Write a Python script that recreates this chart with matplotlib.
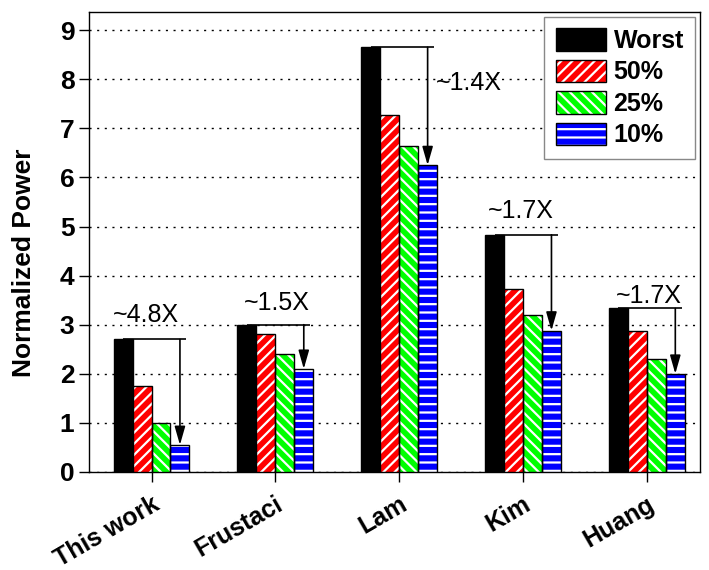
import matplotlib
matplotlib.use("Agg")
import matplotlib.pyplot as plt
import numpy as np
from matplotlib.patches import Patch

plt.rcParams['font.family'] = ['Liberation Sans', 'DejaVu Sans']
plt.rcParams['hatch.linewidth'] = 1.6

categories = ["This work", "Frustaci", "Lam", "Kim", "Huang"]
series_names = ["Worst", "50%", "25%", "10%"]
worst = [2.70, 3.00, 8.65, 4.83, 3.33]
p50 = [1.75, 2.82, 7.28, 3.73, 2.88]
p25 = [1.00, 2.40, 6.63, 3.20, 2.31]
p10 = [0.55, 2.10, 6.25, 2.88, 2.00]
ratio_labels = ["~4.8X", "~1.5X", "~1.4X", "~1.7X", "~1.7X"]

series = [worst, p50, p25, p10]
faces = ["black", "#ff0000", "#00ff00", "#0000ff"]
hatches = [None, "///", "\\\\\\", "--"]

fig = plt.figure(figsize=(7.09, 5.70), dpi=100)
ax = fig.add_axes([0.1255, 0.172, 0.862, 0.807])

x = np.arange(len(categories))
w = 0.153
handles = []
for i, (vals, fc, h) in enumerate(zip(series, faces, hatches)):
    pos = x + (i - 1.5) * w
    if h is None:
        ax.bar(pos, vals, w, color=fc, edgecolor="black", linewidth=1, zorder=3)
        handles.append(Patch(facecolor=fc, edgecolor="black", linewidth=1))
    else:
        ax.bar(pos, vals, w, color=fc, edgecolor="white", hatch=h,
               linewidth=0, zorder=3)
        ax.bar(pos, vals, w, fill=False, edgecolor="black", linewidth=1, zorder=4)
        handles.append((Patch(facecolor=fc, edgecolor="white", hatch=h, linewidth=0),
                        Patch(fill=False, edgecolor="black", linewidth=1)))

# reduction markers: bracket from the worst case down to the 10% bar
blue_off = 1.5 * w
line_end = 0.28
text_pos = [(-0.044, 3.05), (0.01, 3.29), (0.56, 7.78), (-0.016, 5.17), (0.016, 3.44)]
for xi, top, low, lab, (dx, ty) in zip(x, worst, p10, ratio_labels, text_pos):
    ax.plot([xi - 1.5 * w, xi + line_end], [top, top], color="black", lw=1.2,
            zorder=5, solid_capstyle="butt")
    ax.annotate("", xy=(xi + blue_off, low), xytext=(xi + blue_off, top),
                arrowprops=dict(arrowstyle="-|>,head_length=0.7,head_width=0.2",
                                color="black", lw=1.2, mutation_scale=16,
                                shrinkA=0, shrinkB=0),
                zorder=6)
    ax.text(xi + dx, ty, lab, ha="center", va="baseline", fontsize=18, zorder=6)

ax.set_xlim(-0.505, 4.43)
ax.set_ylim(0, 9.37)
ax.set_yticks(range(0, 10))
ax.set_xticks(x)
ax.set_xticklabels(categories, rotation=30, ha="right", rotation_mode="anchor",
                   fontsize=18, fontweight="bold")
for lab in ax.get_yticklabels():
    lab.set_fontsize(19)
    lab.set_fontweight("bold")
ax.tick_params(axis="y", direction="out", length=7, width=1, pad=3.5)
ax.tick_params(axis="x", direction="out", length=7, width=1, pad=7.5)
ax.set_ylabel("Normalized Power", fontsize=19, fontweight="bold")
ax.yaxis.set_label_coords(-0.086, 0.454)

ax.yaxis.grid(True, linestyle=(0, (1.5, 4)), color="black", linewidth=1)
ax.set_axisbelow(True)
for s in ax.spines.values():
    s.set_linewidth(1)

leg = ax.legend(handles, series_names, loc="upper right",
                prop=dict(weight="bold", size=18), handlelength=2.0,
                handleheight=1.0, labelspacing=0.27, handletextpad=0.32,
                borderaxespad=0.2, fancybox=False, framealpha=1,
                borderpad=0.45)
leg.get_frame().set_edgecolor("#888888")
leg.get_frame().set_linewidth(1)
leg.set_zorder(10)

fig.savefig("out.png", dpi=100)
